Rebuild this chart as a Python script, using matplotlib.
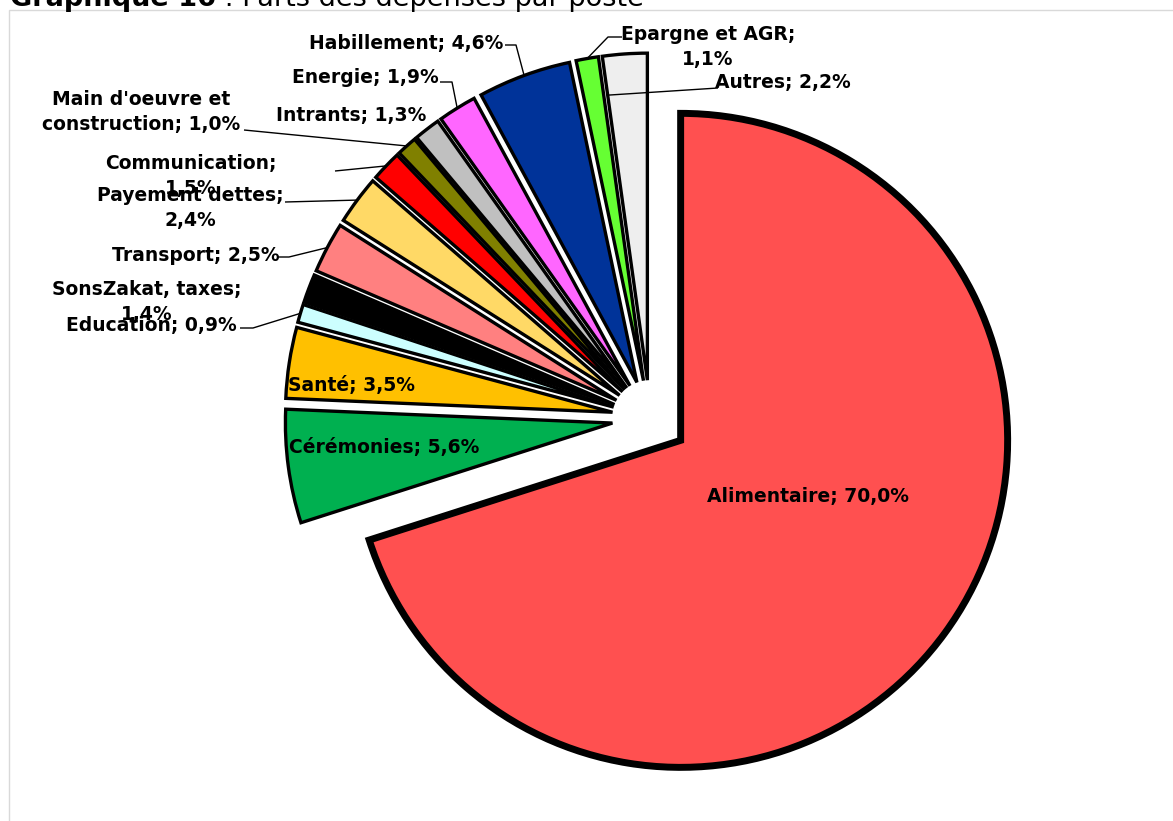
import matplotlib
matplotlib.use('Agg')
import matplotlib.pyplot as plt
from matplotlib.patches import Rectangle
import numpy as np

# data
postes = ['Alimentaire', 'Cérémonies', 'Santé', 'Education', 'SonsZakat, taxes',
          'Transport', 'Payement dettes', 'Communication', "Main d'oeuvre et construction",
          'Intrants', 'Energie', 'Habillement', 'Epargne et AGR', 'Autres']
parts = [70.0, 5.6, 3.5, 0.9, 1.4, 2.5, 2.4, 1.5, 1.0, 1.3, 1.9, 4.6, 1.1, 2.2]
couleurs = ['#FF5050', '#00B050', '#FFC000', '#CCFFFF', '#000000', '#FF8080',
            '#FFD966', '#FF0000', '#808000', '#C0C0C0', '#FF66FF', '#003399',
            '#66FF33', '#EEEEEE']
etiquettes = ['Alimentaire; 70,0%', 'Cérémonies; 5,6%', 'Santé; 3,5%', 'Education; 0,9%',
              'SonsZakat, taxes;\n1,4%', 'Transport; 2,5%', 'Payement dettes;\n2,4%',
              'Communication;\n1,5%', "Main d'oeuvre et\nconstruction; 1,0%",
              'Intrants; 1,3%', 'Energie; 1,9%', 'Habillement; 4,6%',
              'Epargne et AGR;\n1,1%', 'Autres; 2,2%']

W, H = 1173, 821
CX, CY, R = 650, 418, 327   # pie centre / radius in pixels

def px(x, y):
    # pixel (from top-left) -> data coords
    return (x - CX) / R, (CY - y) / R

fig = plt.figure(figsize=(W / 100, H / 100), dpi=100)
ax = fig.add_axes([0, 0, 1, 1])

wedges, _ = ax.pie(parts, colors=couleurs, explode=[0.116] * len(parts),
                   startangle=90, counterclock=False, radius=1,
                   wedgeprops=dict(edgecolor='black', linewidth=2.4, joinstyle='miter'))
wedges[0].set_linewidth(5)

x0, y0 = px(0, 0)
x1, y1 = px(W, H)
ax.set_xlim(x0, x1)
ax.set_ylim(y1, y0)
ax.set_aspect('auto')
ax.axis('off')

# label positions (pixel centres)
pos_lab = [(808, 496), (384, 447), (352, 385), (151, 325), (147, 302),
           (196, 255), (190, 208), (191, 176), (141, 112), (351, 115),
           (365, 77), (406, 43), (708, 47), (783, 82)]
# leader lines: label-side points, then anchor on wedge (angle frac, radius frac)
leaders = {
    3: ([(240, 328), (253, 328)], 0.5, 1.0),
    5: ([(278, 257), (289, 257)], 0.5, 1.0),
    6: ([(285, 202)], 0.5, 1.0),
    7: ([(335, 171)], 0.5, 1.0),
    8: ([(244, 130)], 0.5, 1.0),
    10: ([(440, 82), (452, 82)], 0.5, 1.0),
    11: ([(505, 45), (516, 45)], 0.5, 1.0),
    12: ([(622, 37), (608, 37)], 0.5, 1.0),
    13: ([(718, 88)], 1.0, 0.88),
}

for i, (pts, fa, fr) in leaders.items():
    w = wedges[i]
    ang = np.radians(w.theta1 + fa * (w.theta2 - w.theta1))
    cx, cy = w.center
    ax_pt = (cx + w.r * fr * np.cos(ang), cy + w.r * fr * np.sin(ang))
    xs = [px(*p)[0] for p in pts] + [ax_pt[0]]
    ys = [px(*p)[1] for p in pts] + [ax_pt[1]]
    ax.plot(xs, ys, color='black', lw=1, solid_capstyle='butt')

for lab, (lx, ly) in zip(etiquettes, pos_lab):
    x, y = px(lx, ly)
    ax.text(x, y, lab, ha='center', va='center', fontsize=13.5, fontweight='bold',
            family='DejaVu Sans', linespacing=1.35, color='black')

# frame of chart area
fig.patches.append(Rectangle((9 / W, -0.1), 1.2, 1 - 10 / H + 0.1, transform=fig.transFigure,
                             fill=False, edgecolor='#D9D9D9', lw=1))

# title (cut at top)
renderer = fig.canvas.get_renderer()
t1 = fig.text(10 / W, 1 - 6 / H, 'Graphique 16', fontsize=19.5, fontweight='bold',
              family='DejaVu Sans', va='baseline')
bb = t1.get_window_extent(renderer)
fig.text(bb.x1 / W, 1 - 6 / H, ' : Parts des dépenses par poste', fontsize=19.5,
         family='DejaVu Sans', va='baseline')

fig.savefig('out.png', dpi=100)
